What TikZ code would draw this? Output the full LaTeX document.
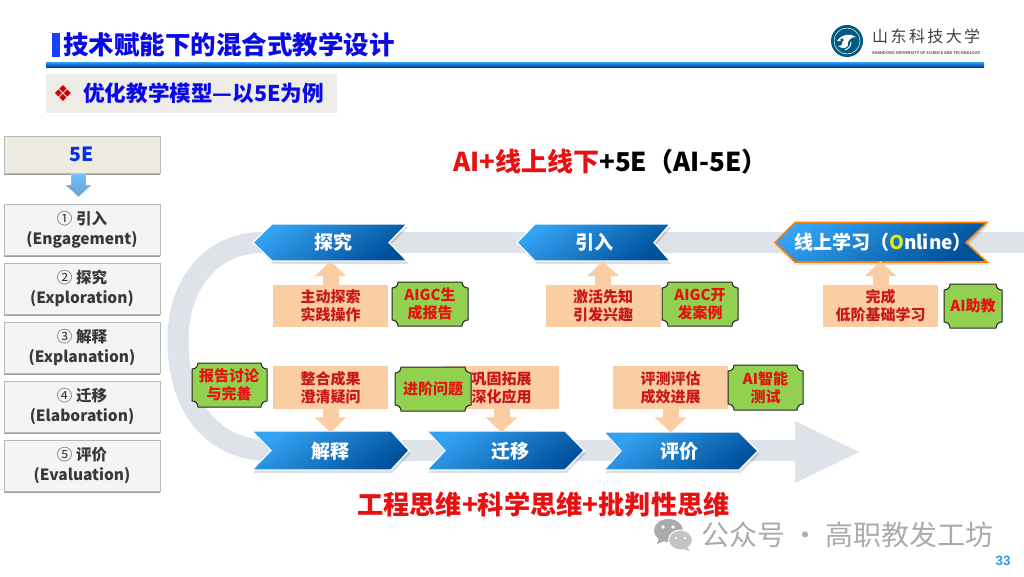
\documentclass[tikz,border=0pt]{standalone}
\usepackage{fontspec}
\setmainfont{Noto Sans CJK SC}
\newfontfamily\djv{DejaVu Sans}
\newfontfamily\arialf{Liberation Sans}
\usetikzlibrary{arrows.meta,shadows,calc}
\definecolor{titleblue}{HTML}{0A0AE6}
\definecolor{track}{HTML}{DEE3EA}
\definecolor{peach}{HTML}{FBCDA3}
\definecolor{leaf}{HTML}{92D050}
\definecolor{brick}{HTML}{C8161C}
\definecolor{hot}{HTML}{E81010}
\definecolor{wm}{HTML}{ABABAB}
\definecolor{ChevA}{HTML}{33A2F2}
\definecolor{ChevB}{HTML}{00509A}
\definecolor{subbg}{HTML}{EEECE6}
\definecolor{headcard}{HTML}{EEECE1}
\definecolor{stepbg}{HTML}{F3F4F5}
\newcommand{\fsz}[1]{\fontsize{#1}{#1}\selectfont}
\tikzset{
  x=1pt,y=-1pt,
  stage/.style={inner sep=0pt,align=center,text=white,font=\bfseries\fsz{19}},
  chev/.style={draw=white,line width=1.2pt,
     top color=ChevA,bottom color=ChevB,shading angle=35,
     drop shadow={shadow xshift=1.5pt,shadow yshift=-3pt,fill=black,opacity=.13}},
  peachbox/.style={fill=peach,inner sep=0pt,minimum width=115pt,minimum height=43pt,align=center,
     font=\bfseries\fsz{15},text=brick},
  stepcard/.style={fill=#1,draw=black!28,line width=.7pt,inner sep=0pt,minimum width=156pt,minimum height=51pt,
     align=center,font=\bfseries\fsz{15.5},text=black!78,
     drop shadow={shadow xshift=0pt,shadow yshift=-2.2pt,fill=black,opacity=.38}},
  stepcard/.default=stepbg,
  block/.style={peach,line width=16pt,-{Triangle[width=31pt,length=15pt]}},
  plq/.style={fill=leaf,draw=black!85,line width=1pt},
  gtxt/.style={inner sep=0pt,align=center,font=\bfseries\fsz{15},text=hot},
}
\begin{document}
\begin{tikzpicture}
\useasboundingbox (0,0) rectangle (1024,576);
\fill[white] (0,0) rectangle (1024,576);

% header
\fill[ChevA!40!blue] (52,33) rectangle (60,57);
\node[anchor=west,inner sep=0pt,font=\bfseries\fsz{25.5},text=titleblue] (title) at (63,45) {技术赋能下的混合式教学设计};
\shade[top color=ChevA,bottom color=ChevB!80!blue] (46,62) rectangle (984,67);
\fill[subbg] (46,74) rectangle (337,113);
\node[font=\fsz{22},text=red!80!black,inner sep=0pt] (bullet) at (63,93.5) {\djv ❖};
\node[anchor=west,inner sep=0pt,font=\bfseries\fsz{21.6},text=titleblue] (sub) at (83,93.5) {优化教学模型—以5E为例};

% logo
\fill[blue!30!cyan!50!black] (847,41) circle (16);
\draw[white,line width=.5pt] (847,41) circle (13);
\fill[white] (837,41) .. controls (842,33) and (852,34) .. (856,37) .. controls (852,37) and (849,39) .. (848,42) .. controls (850,48) and (842,50) .. (838,46) .. controls (842,46) and (843,44) .. (842,41) -- cycle;
\fill[blue!30!cyan!50!black] (842,40) circle (1.8);
\draw[white,line width=1pt] (851,42) .. controls (851,46) and (849,48) .. (845,50);
\node[anchor=west,inner sep=0pt,font=\fsz{16},text=black!75] (logoname) at (872,36)
  {\makebox[108pt][s]{山\hfill 东\hfill 科\hfill 技\hfill 大\hfill 学}};
\node[anchor=west,inner sep=0pt,text=black!60] (logoen) at (872,53)
  {\resizebox{108pt}{!}{\bfseries\fsz{5}SHANDONG UNIVERSITY OF SCIENCE AND TECHNOLOGY}};

% left column
\node[stepcard=headcard,minimum height=37pt,font=\bfseries\fsz{19.5},text=titleblue!85!cyan] (fivee) at (82,154.5) {5E};
\node[stepcard] (s1) at (82,229.5) {{\mdseries ①} 引入\\[4pt](Engagement)};
\node[stepcard] (s2) at (82,288.5) {{\mdseries ②} 探究\\[4pt](Exploration)};
\node[stepcard] (s3) at (82,347.5) {{\mdseries ③} 解释\\[4pt](Explanation)};
\node[stepcard] (s4) at (82,406.5) {{\mdseries ④} 迁移\\[4pt](Elaboration)};
\node[stepcard] (s5) at (82,465.5) {{\mdseries ⑤} 评价\\[4pt](Evaluation)};
\shade[top color=ChevA!70!white,bottom color=ChevB!55!white,draw=white,line width=.4pt]
  (71,174) -- (86,174) -- (86,185) -- (92,185) -- (78.5,197) -- (65,185) -- (71,185) -- cycle;

% heading
\node[anchor=west,inner sep=0pt,font=\bfseries\fsz{26}] (head) at (453,162)
  {\textcolor{hot}{AI+线上线下}+5E（AI-5E）};

% track
\draw[track,line width=21pt] (1024,242.5) -- (262,242.5)
   .. controls (215,242.5) and (178,280) .. (178,340)
   .. controls (178,410) and (215,450.5) .. (270,450.5) -- (800,450.5);
\fill[track] (795,421) -- (859,452) -- (795,483) -- cycle;

% top chevrons
\path[chev] (253,242.5) -- (272,224) -- (407,224) -- (389,242.5) -- (407,261) -- (272,261) -- cycle;
\node[stage,minimum width=134pt,minimum height=37pt] (tanjiu) at (333,242.5) {探究};
\path[chev] (517,242.5) -- (535,224) -- (670,224) -- (654,242.5) -- (670,261) -- (535,261) -- cycle;
\node[stage,minimum width=134pt,minimum height=37pt] (yinru) at (594,242.5) {引入};
\path[chev,draw=orange,line width=1.6pt] (775,242.5) -- (795,222.5) -- (987,222.5) -- (966,242.5) -- (987,262) -- (795,262) -- cycle;
\node[stage,minimum width=170pt,minimum height=37pt] (online) at (883,242.5) {线上学习（\textcolor{yellow!90!green}{O}nline）};

% bottom chevrons
\path[chev] (252,431) -- (391,431) -- (409,450.5) -- (391,470) -- (252,470) -- (271,450.5) -- cycle;
\node[stage,minimum width=120pt,minimum height=37pt] (jieshi) at (330,451) {解释};
\path[chev] (427,431) -- (565,431) -- (584,450.5) -- (565,470) -- (427,470) -- (445,450.5) -- cycle;
\node[stage,minimum width=120pt,minimum height=37pt] (qianyi) at (510,451) {迁移};
\path[chev] (604,432) -- (739,432) -- (758,451) -- (739,470) -- (604,470) -- (621,451) -- cycle;
\node[stage,minimum width=115pt,minimum height=37pt] (pingjia) at (679.5,451) {评价};

% peach boxes
\node[peachbox,minimum height=42pt] (p1) at (330.5,306) {主动探索\\[3pt]实践操作};
\node[peachbox,minimum height=42pt] (p2) at (603,306) {激活先知\\[3pt]引发兴趣};
\node[peachbox,minimum height=42pt] (p3) at (880.5,306) {完成\\[3pt]低阶基础学习};
\node[peachbox] (p4) at (330.5,387.5) {整合成果\\[3pt]澄清疑问};
\node[peachbox] (p5) at (501.5,387.5) {巩固拓展\\[3pt]深化应用};
\node[peachbox] (p6) at (670.5,387.5) {评测评估\\[3pt]成效进展};

% block arrows
\draw[block] (p1.north) -- (p1.north |- tanjiu.south);
\draw[block] (p2.north) -- (p2.north |- yinru.south);
\draw[block] (p3.north) -- (p3.north |- online.south);
\draw[block] (p4.south) -- (p4.south |- jieshi.north);
\draw[block] (p5.south) -- (p5.south |- qianyi.north);
\draw[block] (p6.south) -- (p6.south |- pingjia.north);

% green plaques
\foreach \xa/\ya/\xb/\yb in {392/282/468/326,662/282/738/326,944/284/1002/328,192/363/267/407,395/367/471/411,728/365/803/410}{
  \draw[plq] (\xa+6,\ya) -- (\xb-6,\ya)
    .. controls (\xb-6,\ya+3.5) and (\xb-3.5,\ya+6) .. (\xb,\ya+6) -- (\xb,\yb-6)
    .. controls (\xb-3.5,\yb-6) and (\xb-6,\yb-3.5) .. (\xb-6,\yb) -- (\xa+6,\yb)
    .. controls (\xa+6,\yb-3.5) and (\xa+3.5,\yb-6) .. (\xa,\yb-6) -- (\xa,\ya+6)
    .. controls (\xa+3.5,\ya+6) and (\xa+6,\ya+3.5) .. (\xa+6,\ya) -- cycle;
}
\node[gtxt] (g1) at (430,304) {AIGC生\\[3pt]成报告};
\node[gtxt] (g2) at (700,304) {AIGC开\\[3pt]发案例};
\node[gtxt] (g3) at (973,306) {AI助教};
\node[gtxt] (g4) at (229,385) {报告讨论\\[3pt]与完善};
\node[gtxt] (g5) at (433,389) {进阶问题};
\node[gtxt] (g6) at (765.5,387.5) {AI智能\\[3pt]测试};

% bottom heading
\node[anchor=west,inner sep=0pt,font=\bfseries\fsz{26.2},text=hot] (think) at (357,505) {工程思维+科学思维+批判性思维};

% watermark
\fill[wm] (668.5,530.5) ellipse[x radius=14.5,y radius=11.5];
\fill[wm] (659,538) -- (657,544) -- (664,541) -- cycle;
\fill[wm!70!white,draw=white,line width=1pt] (680.5,540) ellipse[x radius=12,y radius=10];
\fill[wm!70!white] (687,547) -- (690,551) -- (683,549) -- cycle;
\foreach \ex/\ey/\er in {663/527/1.8,673/527/1.8,676/538/1.4,685/538/1.4}{\fill[white] (\ex,\ey) circle (\er);}
\node[anchor=west,inner sep=0pt,font=\fsz{28},text=wm] (mark) at (701,535) {公众号 · 高职教发工坊};

% page number
\node[inner sep=0pt,font=\arialf\bfseries\fsz{13.5},text=cyan!75!blue!85!white] (page) at (1003,561) {33};
\end{tikzpicture}
\end{document}
